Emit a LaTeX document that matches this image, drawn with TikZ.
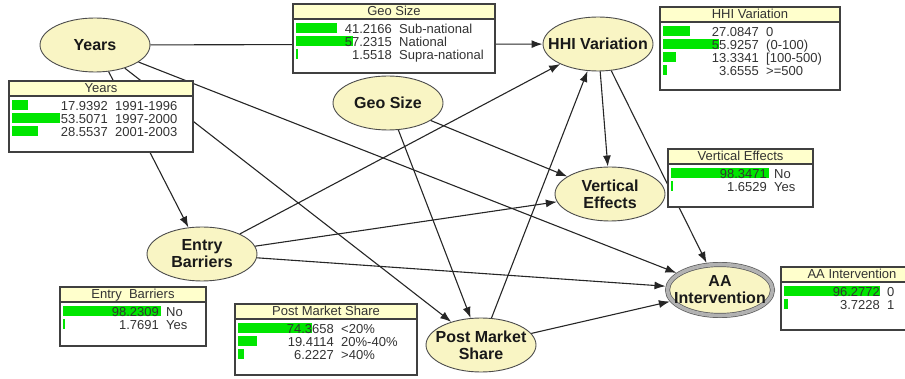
\documentclass[tikz,border=0pt]{standalone}
\usepackage{fontspec}
\setmainfont{Liberation Sans}
\usetikzlibrary{arrows.meta,shapes.geometric}
\definecolor{nodefill}{RGB}{249,245,196}
\definecolor{titlefill}{RGB}{255,255,204}
\definecolor{bargreen}{RGB}{0,230,0}
\tikzset{> = {Latex[length=11pt,width=8pt]},
	bn/.style={ellipse,draw=black!70,fill=nodefill,line width=.9pt,minimum width=110pt,minimum height=54pt,
		inner xsep=-30pt,inner ysep=-14pt,align=center,text=black!90,font=\bfseries\fontsize{16}{17}\selectfont},
	bnquery/.style={bn,draw=black!65,double=black!30,double distance=3.6pt,line width=.7pt,
		minimum width=105pt,minimum height=51pt,outer sep=2.5pt},
	link/.style={->,draw=black!85,line width=1.1pt},
	cptbox/.style={draw=black!75,line width=1.2pt,fill=white},
	cptfont/.style={font=\fontsize{13}{13}\selectfont,text=black!80,inner sep=0pt}
}
% probability table: name, left, top, right, bottom, title, bar scale, value/state list
\newcommand{\cpt}[8]{%
	\draw[cptbox] (#2,#3) rectangle (#4,#5);
	\draw[cptbox,fill=titlefill] (#2,#3) rectangle (#4,#3+15);
	\node[cptfont,anchor=base] (#1-title) at ({(#2+#4)/2},#3+12) {#6};
	\foreach \v/\l [count=\i] in {#8}{
		\pgfmathsetmacro\ry{#3+24.5+13*(\i-1)}
		\fill[bargreen] (#2+3,\ry-5.5) rectangle ++(\v*#7,10);
		\node[cptfont,anchor=base east] (#1-n\i) at (#2+99,\ry+4.7) {\v};
		\node[cptfont,anchor=base west] (#1-l\i) at (#2+106,\ry+4.7) {\l};
	}%
}

\begin{document}
\begin{tikzpicture}[x=1pt,y=-1pt]
	\useasboundingbox (0,0) rectangle (905,379);
	\clip (0,0) rectangle (905,379);
	% network nodes
	\node[bn] (years) at (95,45) {Years};
	\node[bn] (geosize) at (388,103) {Geo Size};
	\node[bn] (hhi) at (598,44) {HHI Variation};
	\node[bn] (vertical) at (610,194) {Vertical\\Effects};
	\node[bn] (entry) at (202,254) {Entry\\Barriers};
	\node[bn] (postshare) at (481,345) {Post Market\\Share};
	\node[bnquery] (aaint) at (720,290) {AA\\Intervention};
	% dependencies
	\foreach \a/\b in {years/hhi,years/entry,years/postshare,years/aaint,
		geosize/postshare,geosize/vertical,entry/hhi,entry/vertical,entry/aaint,
		postshare/hhi,postshare/aaint,hhi/vertical,hhi/aaint}
		\draw[link] (\a) -- (\b);
	% probability tables
	\cpt{tyears}{9}{81}{193}{152}{Years}{0.9}{17.9392/1991-1996,53.5071/1997-2000,28.5537/2001-2003}
	\cpt{tgeo}{293}{4}{495}{73}{Geo Size}{1}{41.2166/Sub-national,57.2315/National,1.5518/Supra-national}
	\cpt{thhi}{660}{7}{840}{90}{HHI Variation}{1}{27.0847/0,55.9257/{(0-100)},13.3341/{[100-500)},3.6555/{>=500}}
	\cpt{tvert}{668}{149}{813}{207}{Vertical Effects}{1}{98.3471/No,1.6529/Yes}
	\cpt{tentry}{60}{287}{206}{346}{Entry\ \ Barriers}{1}{98.2309/No,1.7691/Yes}
	\cpt{tshare}{235}{304}{417}{375}{Post Market Share}{1}{74.3658/{<20\%},19.4114/{20\%-40\%},6.2227/{>40\%}}
	\cpt{taa}{781}{267}{923}{330}{AA Intervention}{1}{96.2772/0,3.7228/1}
\end{tikzpicture}
\end{document}
